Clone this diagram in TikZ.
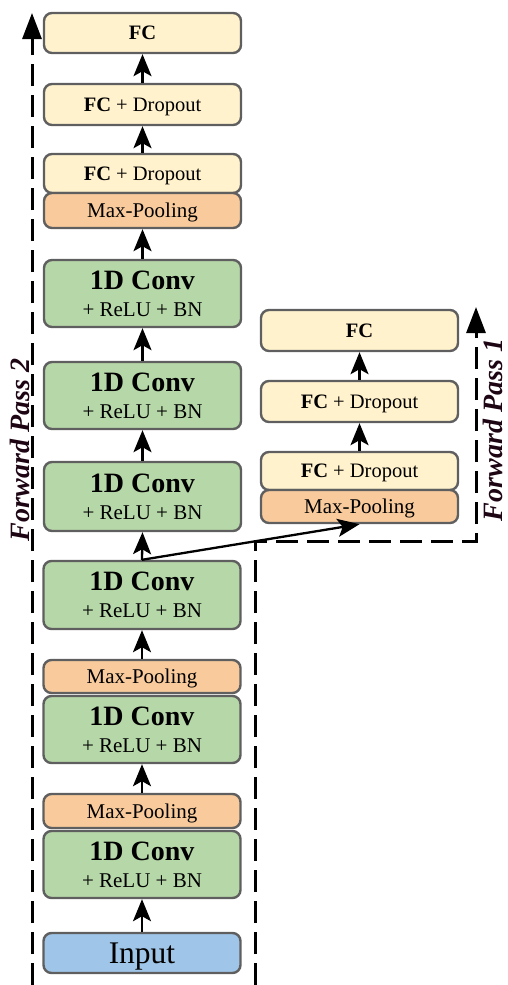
\documentclass[tikz,border=0pt]{standalone}
\usepackage{fontspec}
\setmainfont{Liberation Serif}
\usetikzlibrary{arrows.meta}
\definecolor{fcfill}{HTML}{FFF2CC}
\definecolor{mpfill}{HTML}{F9CB9C}
\definecolor{convfill}{HTML}{B6D7A8}
\definecolor{infill}{HTML}{9FC5E8}
\definecolor{boxline}{HTML}{5F5F5F}
\definecolor{passcol}{HTML}{1E0514}
\tikzset{
  blk/.style={draw=boxline, line width=2.4pt, rounded corners=8pt, inner sep=0pt,
    minimum width=197pt, text depth=0pt, align=center},
  fcbox/.style={blk, fill=fcfill, font=\fontsize{20.5}{24}\selectfont},
  mpbox/.style={blk, fill=mpfill, font=\fontsize{21}{24}\selectfont},
  convbox/.style={blk, fill=convfill, font=\fontsize{21}{27}\selectfont},
  inbox/.style={blk, fill=infill, font=\fontsize{31.5}{34}\selectfont},
  flow/.style={line width=2.3pt, -{Stealth[length=22pt,width=18pt,inset=5pt]}},
  pass/.style={line width=3pt, dash pattern=on 22pt off 9pt, -{Triangle[length=26pt,width=19pt]}},
  passlabel/.style={rotate=90, text=passcol, font=\fontsize{28}{30}\selectfont\bfseries\itshape}
}
\newcommand{\convtext}{{\bfseries\fontsize{28}{27}\selectfont 1D Conv}\\+ ReLU + BN}
\begin{document}
\begin{tikzpicture}[x=1pt,y=-1pt]
\useasboundingbox (0,0) rectangle (508,985);
% left column
\node[fcbox, minimum height=40pt] (fcA) at (142.5,33) {\textbf{FC}};
\node[fcbox, minimum height=41pt] (fdA) at (142.5,104.5) {\textbf{FC} + Dropout};
\node[fcbox, minimum height=39pt] (fdB) at (142.5,173.5) {\textbf{FC} + Dropout};
\node[mpbox, minimum height=35pt] (mpA) at (142.5,210.5) {Max-Pooling};
\node[convbox, minimum height=67pt] (cv1) at (142.5,293.5) {\convtext};
\node[convbox, minimum height=67pt] (cv2) at (142.5,395.5) {\convtext};
\node[convbox, minimum height=69pt] (cv3) at (142.5,496.5) {\convtext};
\node[convbox, minimum height=68pt] (cv4) at (142,595) {\convtext};
\node[mpbox, minimum height=33pt] (mpB) at (142,676.5) {Max-Pooling};
\node[convbox, minimum height=67pt] (cv5) at (142,729.5) {\convtext};
\node[mpbox, minimum height=34pt] (mpC) at (142,811) {Max-Pooling};
\node[convbox, minimum height=67pt] (cv6) at (142,864.5) {\convtext};
\node[inbox, minimum height=40pt] (inp) at (142,953) {Input};
% right column
\node[fcbox, minimum height=41pt] (fcR) at (359.5,330.5) {\textbf{FC}};
\node[fcbox, minimum height=41pt] (fdR1) at (359.5,401.5) {\textbf{FC} + Dropout};
\node[fcbox, minimum height=38pt] (fdR2) at (359.5,471) {\textbf{FC} + Dropout};
\node[mpbox, minimum height=33pt] (mpR) at (359.5,506.5) {Max-Pooling};
% flow arrows
\draw[flow] (fdA.north) -- (fcA.south);
\draw[flow] (fdB.north) -- (fdA.south);
\draw[flow] (cv1.north) -- (mpA.south);
\draw[flow] (cv2.north) -- (cv1.south);
\draw[flow] (cv3.north) -- (cv2.south);
\draw[flow] (cv4.north) -- (cv3.south);
\draw[flow] (mpB.north) -- (cv4.south);
\draw[flow] (mpC.north) -- (cv5.south);
\draw[flow] (inp.north) -- (cv6.south);
\draw[flow] (fdR2.north) -- (fdR1.south);
\draw[flow] (fdR1.north) -- (fcR.south);
\draw[flow] (cv4.north) -- (mpR.south);
% forward passes
\coordinate (p2s) at (32,985);
\coordinate (p2e) at (32,13);
\draw[pass] (p2s) -- (p2e);
\coordinate (p1s) at (255,985);
\coordinate (p1a) at (255,541);
\coordinate (p1b) at (476,541);
\coordinate (p1e) at (476,307);
\draw[pass] (p1s) -- (p1a) -- (p1b) -- (p1e);
\node[passlabel] (lab2) at (20,450) {Forward Pass 2};
\node[passlabel] (lab1) at (493,430) {Forward Pass 1};
\end{tikzpicture}
\end{document}
